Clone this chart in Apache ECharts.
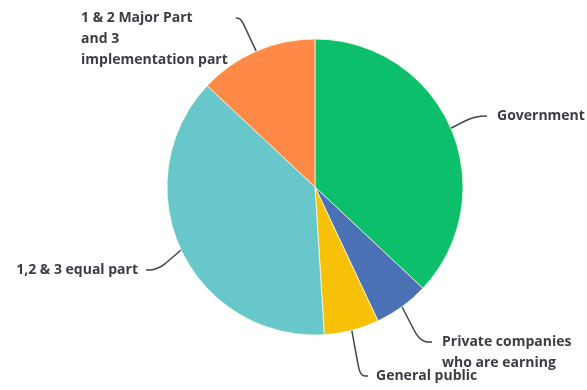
<!DOCTYPE html>
<html>
<head>
<meta charset="utf-8">
<script src="https://cdn.jsdelivr.net/npm/echarts@6/dist/echarts.min.js"></script>
<style>
  html, body { margin: 0; padding: 0; background: #ffffff; }
  #chart { width: 587px; height: 390px; }
</style>
</head>
<body>
<div id="chart"></div>
<script>
// Share of responsibility, clockwise from 12 o'clock
const categories = [
  'Government',
  'Private companies\nwho are earning',
  'General public',
  '1,2 & 3 equal part',
  '1 & 2 Major Part\nand 3\nimplementation part'
];
const shares = [37, 6, 6, 38, 13];
const sliceColors = ['#0cc06b', '#4a70b6', '#f6c107', '#68c7cb', '#ff8a48'];

// Label placement: anchor (centre of the line the leader points at),
// side gap, leader tail, and blank lines above so the leader meets the first line
const labelAnchors = [
  { x: 487, y: 116, align: 'left',  pad: [0, 0, 0, 10], tail: 12, lift: 0 },
  { x: 432, y: 342, align: 'left',  pad: [0, 0, 0, 10], tail: 12, lift: 1 },
  { x: 368, y: 376, align: 'left',  pad: [0, 0, 0, 8],  tail: 8,  lift: 0 },
  { x: 146, y: 270, align: 'right', pad: [0, 8, 0, 0],  tail: 12, lift: 0 },
  { x: 81,  y: 18,  align: 'left',  pad: [0, 8, 0, 0],  tail: 5,  lift: 2 }
];

const chart = echarts.init(document.getElementById('chart'), null, { renderer: 'canvas' });

chart.setOption({
  backgroundColor: '#ffffff',
  animation: false,
  series: [{
    type: 'pie',
    center: [315, 187],
    radius: 148,
    startAngle: 90,
    clockwise: true,
    avoidLabelOverlap: false,
    data: categories.map((name, i) => ({
      name: name,
      value: shares[i],
      itemStyle: { color: sliceColors[i] },
      label: { padding: labelAnchors[i].pad },
      labelLine: { length2: labelAnchors[i].tail }
    })),
    itemStyle: {
      borderColor: 'rgba(255,255,230,0.7)',
      borderWidth: 1
    },
    label: {
      show: true,
      position: 'outside',
      formatter: function (p) {
        return '\n'.repeat(labelAnchors[p.dataIndex].lift) + p.name;
      },
      color: '#3a3d42',
      fontFamily: '"Open Sans", sans-serif',
      fontWeight: 'bold',
      fontSize: 14,
      lineHeight: 21
    },
    labelLine: {
      show: true,
      length: 15,
      smooth: 0.45,
      lineStyle: { color: '#41464d', width: 1.5 }
    },
    labelLayout: function (params) {
      const a = labelAnchors[params.dataIndex];
      return {
        x: a.x,
        y: a.y,
        align: a.align,
        verticalAlign: 'middle'
      };
    }
  }]
});
</script>
</body>
</html>
